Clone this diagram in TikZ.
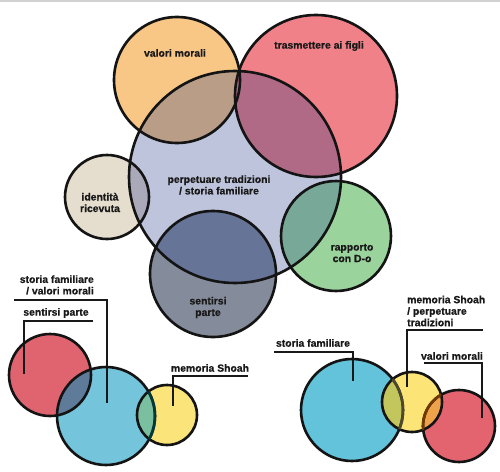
\documentclass[tikz,border=0pt]{standalone}
\usepackage{fontspec}
\setmainfont[BoldFeatures={FakeBold=0.6}]{Liberation Sans}
\definecolor{cMainF}{HTML}{BEC4DB}
\definecolor{cOrange}{HTML}{F8C685}
\definecolor{cRed}{HTML}{F08189}
\definecolor{cIdent}{HTML}{E5DDCE}
\definecolor{cGreen}{HTML}{9BD39C}
\definecolor{cSent}{HTML}{848B9A}
\definecolor{oOrMain}{HTML}{BA9D87}
\definecolor{oRedMain}{HTML}{B06A85}
\definecolor{oIdMain}{HTML}{AAA9B9}
\definecolor{oGrMain}{HTML}{77A898}
\definecolor{oSeMain}{HTML}{667497}
\definecolor{bRed}{HTML}{E0646F}
\definecolor{bBlue}{HTML}{74C4DC}
\definecolor{bYel}{HTML}{FBE57A}
\definecolor{oRB}{HTML}{5F7B9A}
\definecolor{oBY}{HTML}{7ABFA0}
\definecolor{rBlue}{HTML}{62C3DB}
\definecolor{rYel}{HTML}{FDE477}
\definecolor{rRed}{HTML}{E3636E}
\definecolor{oRBY}{HTML}{C2C65C}
\definecolor{oRYR}{HTML}{EEA24A}
\begin{document}
\begin{tikzpicture}[x=1pt,y=-1pt,
  lbl/.style={font=\bfseries\fontsize{10.4}{11.5}\selectfont, align=center, inner sep=0pt, text=black!90},
  ring/.style={draw=black!92, line width=2.6pt},
  lead/.style={draw=black!90, line width=1.1pt}]
\useasboundingbox (0,0) rectangle (500,471);
\fill[white] (0,0) rectangle (500,471);
\fill[black!18] (0,0) rectangle (500,2);
% circle definitions
\def\Main{(235,177) circle (106pt)}
\def\Orange{(177,80) circle (63pt)}
\def\Red{(316,96) circle (81pt)}
\def\Ident{(107,197) circle (42pt)}
\def\Green{(336,236) circle (55pt)}
\def\Sent{(213,274) circle (63pt)}
\def\BRed{(50,375) circle (41pt)}
\def\BBlue{(106,416) circle (49pt)}
\def\BYel{(167,415) circle (30pt)}
\def\RBlue{(352,410) circle (51pt)}
\def\RYel{(412,402) circle (30pt)}
\def\RRed{(459,426) circle (36pt)}
% base fills
\fill[cOrange] \Orange;
\fill[cRed] \Red;
\fill[cIdent] \Ident;
\fill[cGreen] \Green;
\fill[cSent] \Sent;
\fill[cMainF] \Main;
\begin{scope}\clip \Main; \fill[oOrMain] \Orange; \end{scope}
\begin{scope}\clip \Main; \fill[oRedMain] \Red; \end{scope}
\begin{scope}\clip \Main; \fill[oIdMain] \Ident; \end{scope}
\begin{scope}\clip \Main; \fill[oGrMain] \Green; \end{scope}
\begin{scope}\clip \Main; \fill[oSeMain] \Sent; \end{scope}
% bottom left
\fill[bRed] \BRed;
\fill[bBlue] \BBlue;
\fill[bYel] \BYel;
\begin{scope}\clip \BRed; \fill[oRB] \BBlue; \end{scope}
\begin{scope}\clip \BYel; \fill[oBY] \BBlue; \end{scope}
% bottom right
\fill[rBlue] \RBlue;
\fill[rYel] \RYel;
\fill[rRed] \RRed;
\begin{scope}\clip \RYel; \fill[oRBY] \RBlue; \end{scope}
\begin{scope}\clip \RYel; \fill[oRYR] \RRed; \end{scope}
% leader coordinates
\coordinate (a1) at (14,300); \coordinate (a2) at (107,300); \coordinate (a3) at (107,403);
\coordinate (b1) at (93,321); \coordinate (b2) at (24,321); \coordinate (b3) at (24,374);
\coordinate (c1) at (248,376); \coordinate (c2) at (173,376); \coordinate (c3) at (173,406);
\coordinate (d1) at (274,352); \coordinate (d2) at (353,352); \coordinate (d3) at (353,381);
\coordinate (e1) at (483,330); \coordinate (e2) at (407,330); \coordinate (e3) at (407,387);
\coordinate (f1) at (424,363); \coordinate (f2) at (482,363); \coordinate (f3) at (482,418);
\draw[lead] (a1) -- (a2) -- (a3);
\draw[lead] (b1) -- (b2) -- (b3);
\draw[lead] (c1) -- (c2) -- (c3);
\draw[lead] (d1) -- (d2) -- (d3);
\draw[lead] (e1) -- (e2) -- (e3);
\draw[lead] (f1) -- (f2) -- (f3);
% outlines
\draw[ring] \Orange;
\draw[ring] \Red;
\draw[ring] \Ident;
\draw[ring] \Green;
\draw[ring] \Sent;
\draw[ring] \Main;
\draw[ring] \BRed;
\draw[ring] \BBlue;
\draw[ring] \BYel;
\begin{scope}\clip \BYel; \draw[line width=2.6pt, draw=black!55!teal] \BBlue; \end{scope}
\draw[ring] \RBlue;
\draw[ring] \RRed;
\draw[ring] \RYel;
\begin{scope}\clip \RYel; \draw[line width=2.6pt, draw=black!60!olive] \RBlue; \draw[line width=2.6pt, draw=black!55!orange] \RRed; \end{scope}
% labels
\node[lbl] (tMain) at (219,185) {perpetuare tradizioni\\/ storia familiare};
\node[lbl] (tOr) at (175,53) {valori morali};
\node[lbl] (tRed) at (319,46) {trasmettere ai figli};
\node[lbl] (tId) at (100,202.5) {identità\\ricevuta};
\node[lbl] (tGr) at (352,253) {rapporto\\con D-o};
\node[lbl] (tSe) at (208,307.5) {sentirsi\\parte};
\node[lbl, align=right, anchor=east] (tBL1) at (94,285) {storia familiare\\/ valori morali};
\node[lbl] (tBL2) at (56,313) {sentirsi parte};
\node[lbl] (tBL3) at (210,368) {memoria Shoah};
\node[lbl] (tBR1) at (313,343) {storia familiare};
\node[lbl, align=left, anchor=west] (tBR2) at (407,311) {memoria Shoah\\/ perpetuare\\tradizioni};
\node[lbl] (tBR3) at (452,356) {valori morali};
\end{tikzpicture}
\end{document}
